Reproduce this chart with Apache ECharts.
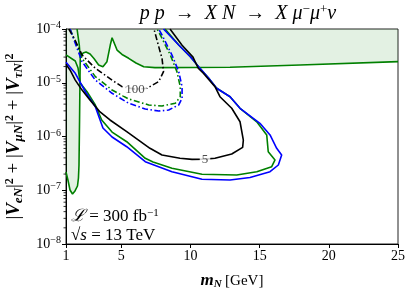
<!DOCTYPE html>
<html><head><meta charset="utf-8">
<script src="https://cdn.jsdelivr.net/npm/echarts@6/dist/echarts.min.js"></script>
<style>html,body{margin:0;padding:0;background:#fff}#c{width:413px;height:294px}</style>
</head><body><div id="c"></div>
<script>
// ---- axis ticks ----
const xTicks = [1, 5, 10, 15, 20, 25];
const yTicks = [1e-8, 1e-7, 1e-6, 1e-5, 1e-4];
const minorMultipliers = [2, 3, 4, 5, 6, 7, 8, 9];

// ---- existing exclusion (shaded) ----
const exclusionBoundary = [[1.0,2.19e-7],[1.14,1.55e-7],[1.29,1.01e-7],[1.47,8.5e-8],[1.65,9.7e-8],[1.83,1.2e-7],[1.90,1.69e-7],[1.94,2.95e-7],[1.98,2.03e-6],[2.01,1.12e-5],[2.03,2.88e-5],[2.23,3.57e-5],[2.45,3.73e-5],[2.74,3.43e-5],[3.02,2.82e-5],[3.36,2.14e-5],[3.67,1.99e-5],[3.96,2.47e-5],[4.20,5.03e-5],[4.33,6.89e-5],[4.69,4.06e-5],[5.05,3.36e-5],[5.53,2.85e-5],[6.06,2.33e-5],[6.62,1.99e-5],[7.43,1.91e-5],[12.86,1.94e-5],[17.92,2.14e-5],[25,2.47e-5]];
const exclusionSpur = [[1.80,1e-4],[1.96,5.03e-5],[2.03,2.88e-5]];

// ---- contours (5 events: solid, 100 events: dash-dot) ----
const blackSolid = [[1.0,2.2e-5],[1.29,1.73e-5],[1.67,1.12e-5],[2.16,7.3e-6],[2.73,4.8e-6],[3.46,2.86e-6],[4.18,2.03e-6],[5.39,1.23e-6],[7.07,6.03e-7],[7.94,4.53e-7],[9.24,3.93e-7],[10.11,3.76e-7],[11.05,3.8e-7],[11.77,3.93e-7],[12.98,4.72e-7],[13.77,6.29e-7],[13.82,8.6e-7],[13.58,1.88e-6],[12.98,3.35e-6],[12.13,5.5e-6],[11.77,8.45e-6],[10.93,1.5e-5],[10.56,1.86e-5],[10.18,3.0e-5],[9.39,5.0e-5],[8.52,1e-4]];
const greenSolid = [[1.0,3.3e-5],[1.67,2.54e-5],[1.87,1.88e-5],[2.03,9.9e-6],[2.52,6.8e-6],[3.12,3.86e-6],[3.58,2.03e-6],[4.33,1.21e-6],[5.39,8.0e-7],[6.73,3.93e-7],[7.29,3.36e-7],[8.66,2.56e-7],[10.83,1.98e-7],[13.34,1.92e-7],[14.79,2.21e-7],[15.87,2.74e-7],[16.11,3.66e-7],[15.62,5.21e-7],[15.51,1.07e-6],[14.79,1.88e-6],[13.58,3.35e-6],[12.86,5.5e-6],[11.89,7.9e-6],[11.32,1.21e-5],[10.59,1.99e-5],[9.99,3.05e-5],[9.15,5.03e-5],[8.16,1e-4]];
const blueSolid = [[1.0,2.4e-5],[1.67,1.5e-5],[2.40,6.8e-6],[3.12,3.58e-6],[3.67,1.44e-6],[4.33,9.8e-7],[5.39,6.45e-7],[6.73,3.4e-7],[8.66,2.21e-7],[10.83,1.6e-7],[12.86,1.55e-7],[14.30,1.73e-7],[15.75,2.21e-7],[16.35,2.95e-7],[16.59,4.53e-7],[16.23,6.03e-7],[15.75,1.07e-6],[15.02,1.76e-6],[13.58,3.35e-6],[12.86,5.5e-6],[11.89,7.9e-6],[11.32,1.21e-5],[10.59,1.99e-5],[9.99,3.05e-5],[9.15,5.03e-5],[8.05,1e-4]];
const blackDash = [[1.20,1e-4],[1.65,6.24e-5],[2.16,3.28e-5],[3.12,1.86e-5],[4.33,1.12e-5],[5.05,8.45e-6],[5.99,7.6e-6],[6.86,7.9e-6],[7.70,1.05e-5],[8.05,1.61e-5],[7.94,2.85e-5],[7.69,4.83e-5],[7.36,1e-4]];
const blueDash = [[1.29,1e-4],[1.72,5.0e-5],[2.16,2.47e-5],[3.12,1.12e-5],[4.33,6.37e-6],[5.53,4.15e-6],[6.73,3.25e-6],[7.70,2.98e-6],[8.42,3.11e-6],[9.15,3.86e-6],[9.39,5.14e-6],[9.39,8.45e-6],[9.15,1.61e-5],[8.66,3.28e-5],[7.94,7.73e-5],[7.70,1e-4]];
const greenDash = [[1.29,1e-4],[1.72,5.5e-5],[2.16,2.85e-5],[3.12,1.30e-5],[4.33,7.33e-6],[5.53,4.99e-6],[6.98,3.86e-6],[7.94,3.69e-6],[8.90,4.15e-6],[9.26,5.5e-6],[9.26,8.45e-6],[9.02,1.61e-5],[8.54,3.28e-5],[7.82,7.73e-5],[7.58,1e-4]];

// ---- contour labels ----
const labelTexts = ['100', '5'];
const labelM = [5.99, 11.05];
const labelV = [7.6e-6, 3.8e-7];

const SERIF = "'Liberation Serif','DejaVu Serif',serif";
const GREEN = '#008000', BLUE = '#0000ff', BLACK = '#000000';

const minorTickValues = [];
for (let i = 0; i < yTicks.length - 1; i++) minorMultipliers.forEach(k => minorTickValues.push(yTicks[i] * k));

const chart = echarts.init(document.getElementById('c'), null, {renderer: 'canvas'});

function lineSeries(data, color, dashed, z) {
  return {
    type: 'line', data: data, showSymbol: false, symbol: 'none', z: z || 3,
    lineStyle: {color: color, width: 1.6, type: dashed ? [6, 2.5, 1.5, 2.5] : 'solid'},
    animation: false, silent: true
  };
}

const option = {
  animation: false,
  grid: {left: 66, right: 15, top: 29, bottom: 50, containLabel: false, outerBoundsMode: 'none',
    show: true, borderColor: '#222', borderWidth: 1, backgroundColor: 'transparent'},
  xAxis: {
    type: 'value', min: 1, max: 25,
    axisLine: {show: true, onZero: false, lineStyle: {color: '#000', width: 1}},
    axisTick: {show: true, length: 4, customValues: xTicks, lineStyle: {color: '#000'}},
    axisLabel: {customValues: xTicks, fontFamily: SERIF, fontSize: 14, color: '#000', margin: 5},
    splitLine: {show: false},
    name: '{b|m}{bs|N} {r|[GeV]}', nameLocation: 'middle', nameGap: 28,
    nameTextStyle: {rich: {
      b: {fontFamily: SERIF, fontSize: 17, fontWeight: 'bold', fontStyle: 'italic', color: '#000', lineHeight: 18},
      bs: {fontFamily: SERIF, fontSize: 11, fontWeight: 'bold', fontStyle: 'italic', color: '#000', verticalAlign: 'bottom', lineHeight: 11},
      r: {fontFamily: SERIF, fontSize: 15, color: '#000', lineHeight: 18}
    }}
  },
  yAxis: {
    type: 'log', logBase: 10, min: 1e-8, max: 1e-4,
    axisLine: {show: true, onZero: false, lineStyle: {color: '#000', width: 1}},
    axisTick: {show: true, length: 4, lineStyle: {color: '#000'}},
    axisLabel: {
      margin: 5,
      formatter: v => '{b|10}{s|−' + (-Math.round(Math.log10(v))) + '}',
      rich: {
        b: {fontFamily: SERIF, fontSize: 14, color: '#000', lineHeight: 17},
        s: {fontFamily: SERIF, fontSize: 10, color: '#000', verticalAlign: 'top', lineHeight: 10}
      }
    },
    splitLine: {show: false},
    name: '{n||}{v|V}{s|eN}{n||}{p|2}{n| + |}{v|V}{s|μN}{n||}{p|2}{n| + |}{v|V}{s|τN}{n||}{p|2}',
    nameLocation: 'middle', nameRotate: 90, nameGap: 38,
    nameTextStyle: {fontFamily: SERIF, fontSize: 18, color: '#000', rich: {
      n: {fontFamily: SERIF, fontSize: 19, color: '#000', lineHeight: 22},
      v: {fontFamily: SERIF, fontSize: 19, fontWeight: 'bold', fontStyle: 'italic', color: '#000', lineHeight: 22},
      s: {fontFamily: SERIF, fontSize: 13, fontWeight: 'bold', fontStyle: 'italic', color: '#000', verticalAlign: 'bottom', lineHeight: 12},
      p: {fontFamily: SERIF, fontSize: 12, fontWeight: 'bold', color: '#000', verticalAlign: 'top', lineHeight: 12}
    }}
  },
  graphic: [
    {type: 'text', x: 238, y: 14, z: 10, style: {
      text: '{i|p p}  →  {i|X N}  →  {i|X μ}{s|−}{i|μ}{s|+}{i|ν}',
      align: 'center', verticalAlign: 'middle',
      rich: {
        i: {fontFamily: SERIF, fontSize: 20, fontStyle: 'italic', fill: '#000', lineHeight: 22},
        s: {fontFamily: SERIF, fontSize: 13, fill: '#000', verticalAlign: 'top', lineHeight: 12}
      },
      font: '20px ' + SERIF, fill: '#000'
    }},
    {type: 'text', left: 71, top: 208, z: 10, style: {
      text: '{i|ℒ} = 300 fb{s|−1}',
      rich: {
        i: {fontFamily: SERIF, fontSize: 17, fontStyle: 'italic', fill: '#000', lineHeight: 17},
        s: {fontFamily: SERIF, fontSize: 11, fill: '#000', verticalAlign: 'top', lineHeight: 10}
      },
      font: '17px ' + SERIF, fill: '#000'
    }},
    {type: 'text', left: 71, top: 227, z: 10, style: {
      text: '√{i|s} = 13 TeV',
      rich: {i: {fontFamily: SERIF, fontSize: 17, fontStyle: 'italic', fill: '#000', lineHeight: 17}},
      font: '17px ' + SERIF, fill: '#000'
    }}
  ],
  series: [
    {
      type: 'custom', silent: true, z: 1, data: [0],
      renderItem: (params, api) => {
        const pts = exclusionBoundary.map(p => api.coord(p));
        pts.push(api.coord([25, 1e-4]));
        pts.push(api.coord([1, 1e-4]));
        return {type: 'polygon', shape: {points: pts}, style: {fill: 'rgba(0,128,0,0.11)', stroke: 'none'}};
      }
    },
    {
      type: 'custom', silent: true, clip: false, z: 5, data: minorTickValues.map(v => [1, v]),
      renderItem: (params, api) => {
        const p = api.coord([api.value(0), api.value(1)]);
        return {type: 'line', shape: {x1: p[0] - 2.5, y1: p[1], x2: p[0], y2: p[1]}, style: {stroke: '#000', lineWidth: 0.8}};
      }
    },
    lineSeries(exclusionBoundary, GREEN, false, 2),
    lineSeries(exclusionSpur, GREEN, false, 2),
    lineSeries(greenSolid, GREEN, false, 3),
    lineSeries(blueSolid, BLUE, false, 3),
    lineSeries(blackSolid, BLACK, false, 4),
    lineSeries(greenDash, GREEN, true, 3),
    lineSeries(blueDash, BLUE, true, 3),
    lineSeries(blackDash, BLACK, true, 4),
    {
      type: 'scatter', z: 8, symbolSize: 0, silent: true,
      data: labelTexts.map((t, i) => ({value: [labelM[i], labelV[i]], name: t})),
      label: {show: true, position: 'inside', formatter: p => p.name, fontFamily: SERIF, fontSize: 13,
        color: '#222', backgroundColor: '#fff', padding: [0, 2]}
    }
  ]
};
chart.setOption(option);
</script></body></html>
